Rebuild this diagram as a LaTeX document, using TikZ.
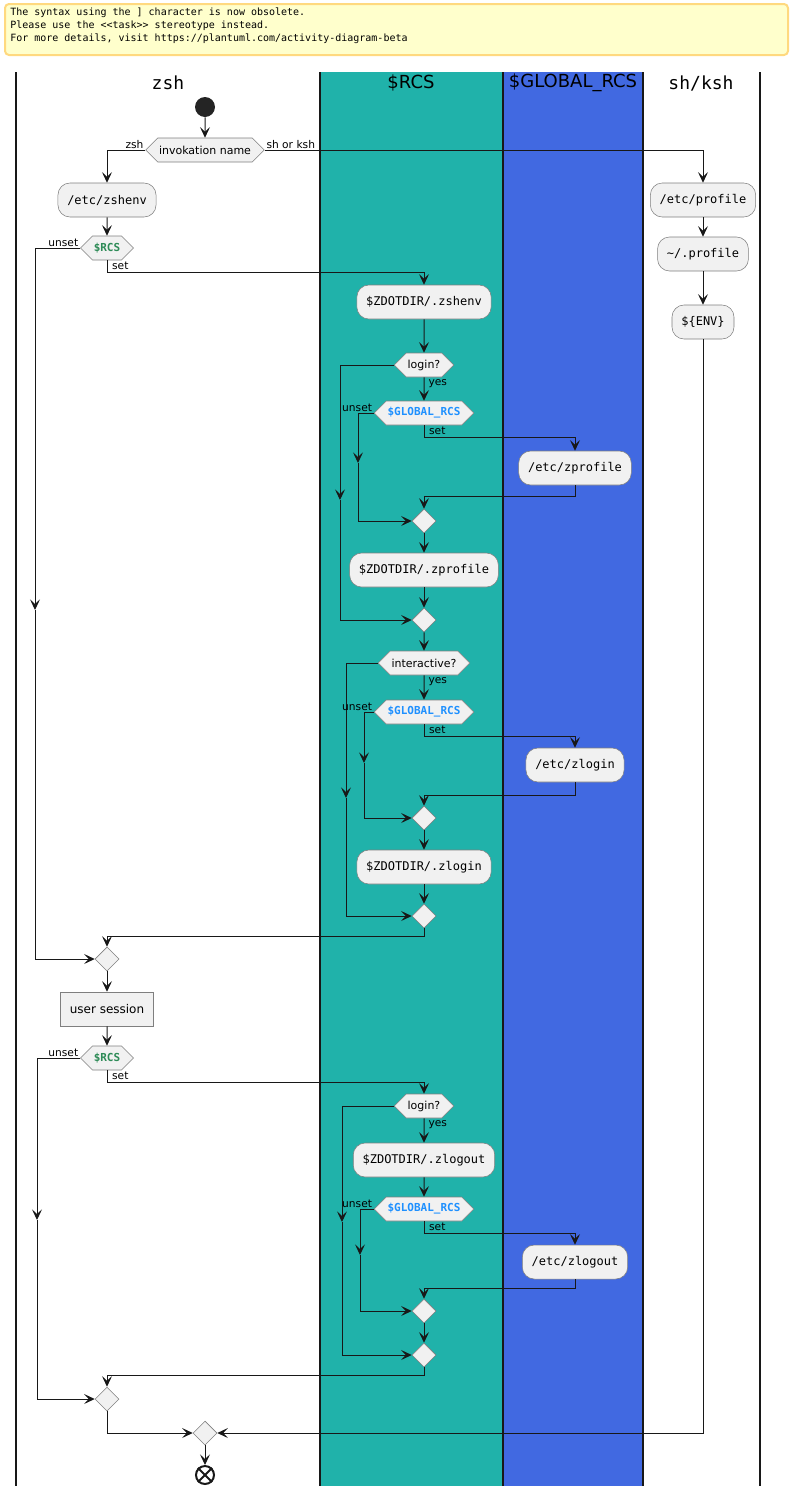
\documentclass[tikz,border=0pt]{standalone}
\usepackage{fontspec}
\setmainfont{DejaVu Sans}
\setmonofont{DejaVu Sans Mono}
\usetikzlibrary{arrows.meta,shapes.geometric,shapes.symbols}
\definecolor{rcsLane}{HTML}{20B2AA}
\definecolor{globalLane}{HTML}{4169E1}
\definecolor{actFill}{HTML}{F1F1F1}
\definecolor{actBorder}{HTML}{7F7F7F}
\definecolor{flowLine}{HTML}{181818}
\definecolor{rcsText}{HTML}{2E8B57}
\definecolor{globalText}{HTML}{1E90FF}
\definecolor{noteFill}{HTML}{FFFFCC}
\definecolor{noteBorder}{HTML}{FFD97F}
\newcommand{\laneTop}{72}
\newcommand{\laneBottom}{1486}
\newcommand{\laneZsh}{16}
\newcommand{\laneRcs}{320}
\newcommand{\laneGlobal}{503}
\newcommand{\laneSh}{643}
\newcommand{\laneEnd}{760}
\newcommand{\headerY}{83}
\newcommand{\rcsVar}{\textcolor{rcsText}{\bfseries\ttfamily \$RCS}}
\newcommand{\globalVar}{\textcolor{globalText}{\bfseries\ttfamily \$GLOBAL\_RCS}}

\begin{document}
\begin{tikzpicture}[x=0.75pt, y=-0.75pt,
    action/.style={draw=actBorder, fill=actFill, rounded corners=9pt, minimum height=25.5pt, inner xsep=7pt, inner ysep=0pt, font=\ttfamily\fontsize{9}{11}\selectfont},
    session/.style={draw=actBorder, fill=actFill, minimum height=25.5pt, inner xsep=7pt, font=\fontsize{9}{11}\selectfont},
    test/.style={draw=actBorder, fill=actFill, signal, signal to=west and east, signal pointer angle=90, minimum height=18pt, inner xsep=1pt, inner ysep=0pt, font=\fontsize{8.25}{10}\selectfont},
    merge/.style={draw=actBorder, fill=actFill, diamond, minimum width=18pt, minimum height=18pt, inner sep=0pt},
    startdot/.style={circle, fill=flowLine!95!white, minimum size=15pt, inner sep=0pt},
    stopdot/.style={circle, draw=flowLine, line width=1.5pt, fill=white, minimum size=13.5pt, inner sep=0pt},
    flow/.style={draw=flowLine, line width=0.75pt, -{Stealth[length=8pt, width=7.5pt, inset=3.5pt]}},
    lbl/.style={font=\fontsize{8}{10}\selectfont, inner sep=1pt},
    branch/.style={lbl, below right, inner xsep=3.5pt},
    lane/.style={font=\fontsize{13.5}{15}\selectfont}]

   \useasboundingbox (0,0) rectangle (793,1496);

   % deprecation note
   \draw[noteBorder, fill=noteFill, line width=1.5pt, rounded corners=3pt] (5,4) rectangle (788,55);
   \node[anchor=north west, align=left, inner sep=0pt, font=\ttfamily\fontsize{7.5}{9.75}\selectfont] (syntaxNote) at (10,8)
      {The syntax using the ] character is now obsolete.\\Please use the <<task>> stereotype instead.\\For more details, visit https://plantuml.com/activity-diagram-beta};

   % swimlanes
   \fill[rcsLane] (\laneRcs,\laneTop) rectangle (\laneGlobal,\laneBottom);
   \fill[globalLane] (\laneGlobal,\laneTop) rectangle (\laneSh,\laneBottom);
   \foreach \x in {\laneZsh,\laneRcs,\laneGlobal,\laneSh,\laneEnd}
      \draw[line width=1.1pt, flowLine] (\x,\laneTop) -- (\x,\laneBottom);
   \node[lane, font=\ttfamily\fontsize{13.5}{15}\selectfont] (hZsh) at (168,\headerY) {zsh};
   \node[lane] (hRcs) at (411,\headerY) {\$RCS};
   \node[lane] (hGlobal) at (573,\headerY) {\$GLOBAL\_RCS};
   \node[lane, font=\ttfamily\fontsize{13.5}{15}\selectfont] (hSh) at (701,\headerY) {sh/ksh};

   % startup
   \node[startdot] (start) at (205,107) {};
   \node[test] (inv) at (205,150) {invokation name};
   \node[action] (zshenv) at (107,200) {/etc/zshenv};
   \node[action] (profile) at (703,200) {/etc/profile};
   \node[action] (homeProfile) at (703,254) {\textasciitilde/.profile};
   \node[action] (env) at (703,322) {\$\{ENV\}};
   \node[test] (rcsA) at (107,248) {\rcsVar};
   \node[action] (zdZshenv) at (424,302) {\$ZDOTDIR/.zshenv};

   % login
   \node[test] (loginA) at (424,365) {login?};
   \node[test] (globA) at (424,413) {\globalVar};
   \node[action] (zprofile) at (575,468) {/etc/zprofile};
   \node[merge] (mergeA1) at (424,521) {};
   \node[action] (zdZprofile) at (424,570) {\$ZDOTDIR/.zprofile};
   \node[merge] (mergeA2) at (424,620) {};

   % interactive
   \node[test] (inter) at (424,663) {interactive?};
   \node[test] (globB) at (424,712) {\globalVar};
   \node[action] (zlogin) at (575,765) {/etc/zlogin};
   \node[merge] (mergeB1) at (424,818) {};
   \node[action] (zdZlogin) at (424,867) {\$ZDOTDIR/.zlogin};
   \node[merge] (mergeB2) at (424,916) {};

   % session and logout
   \node[merge] (mergeZ1) at (107,959) {};
   \node[session] (session) at (107,1009) {user session};
   \node[test] (rcsB) at (107,1058) {\rcsVar};
   \node[test] (loginB) at (424,1106) {login?};
   \node[action] (zdZlogout) at (424,1160) {\$ZDOTDIR/.zlogout};
   \node[test] (globC) at (424,1209) {\globalVar};
   \node[action] (zlogout) at (575,1262) {/etc/zlogout};
   \node[merge] (mergeC1) at (424,1311) {};
   \node[merge] (mergeC2) at (424,1355) {};
   \node[merge] (mergeZ2) at (107,1399) {};
   \node[merge] (mergeEnd) at (205,1433) {};
   \node[stopdot] (stop) at (205,1475) {};
   \draw[flowLine, line width=1.5pt] (stop.45) -- (stop.225) (stop.135) -- (stop.315);

   % bends of the skip branches
   \coordinate (skipA) at (35,610);
   \coordinate (skipB) at (340,500);
   \coordinate (skipC) at (358,463);
   \coordinate (skipD) at (346,798);
   \coordinate (skipE) at (364,763);
   \coordinate (skipF) at (37,1220);
   \coordinate (skipG) at (342,1222);
   \coordinate (skipH) at (360,1255);

   \draw[flow] (start) -- (inv);
   \draw[flow] (inv.west) node[lbl, above left] {zsh} -| (zshenv);
   \draw[flow] (inv.east) node[lbl, above right] {sh or ksh} -| (profile);
   \draw[flow] (profile) -- (homeProfile);
   \draw[flow] (homeProfile) -- (env);
   \draw[flow] (zshenv) -- (rcsA);
   \draw[flow] (rcsA.west) node[lbl, above left] {unset} -| (skipA);
   \draw[flow] (skipA) |- (mergeZ1);
   \draw[flow] (rcsA.south) node[branch] {set} -- ++(0,12) -| (zdZshenv);
   \draw[flow] (zdZshenv) -- (loginA);

   \draw[flow] (loginA.west) -| (skipB);
   \draw[flow] (skipB) |- (mergeA2);
   \draw[flow] (loginA) -- node[lbl, right, near start, inner xsep=3pt] {yes} (globA);
   \draw[flow] (globA.west) node[lbl, above left] {unset} -| (skipC);
   \draw[flow] (skipC) |- (mergeA1);
   \draw[flow] (globA.south) node[branch] {set} -- ++(0,12) -| (zprofile);
   \draw[flow] (zprofile.south) -- ++(0,11) -| (mergeA1);
   \draw[flow] (mergeA1) -- (zdZprofile);
   \draw[flow] (zdZprofile) -- (mergeA2);
   \draw[flow] (mergeA2) -- (inter);

   \draw[flow] (inter.west) -| (skipD);
   \draw[flow] (skipD) |- (mergeB2);
   \draw[flow] (inter) -- node[lbl, right, near start, inner xsep=3pt] {yes} (globB);
   \draw[flow] (globB.west) node[lbl, above left] {unset} -| (skipE);
   \draw[flow] (skipE) |- (mergeB1);
   \draw[flow] (globB.south) node[branch] {set} -- ++(0,12) -| (zlogin);
   \draw[flow] (zlogin.south) -- ++(0,13) -| (mergeB1);
   \draw[flow] (mergeB1) -- (zdZlogin);
   \draw[flow] (zdZlogin) -- (mergeB2);
   \draw[flow] (mergeB2.south) -- ++(0,8) -| (mergeZ1);

   \draw[flow] (mergeZ1) -- (session);
   \draw[flow] (session) -- (rcsB);
   \draw[flow] (rcsB.west) node[lbl, above left] {unset} -| (skipF);
   \draw[flow] (skipF) |- (mergeZ2);
   \draw[flow] (rcsB.south) node[branch] {set} -- ++(0,12) -| (loginB);
   \draw[flow] (loginB.west) -| (skipG);
   \draw[flow] (skipG) |- (mergeC2);
   \draw[flow] (loginB) -- node[lbl, right, near start, inner xsep=3pt] {yes} (zdZlogout);
   \draw[flow] (zdZlogout) -- (globC);
   \draw[flow] (globC.west) node[lbl, above left] {unset} -| (skipH);
   \draw[flow] (skipH) |- (mergeC1);
   \draw[flow] (globC.south) node[branch] {set} -- ++(0,12) -| (zlogout);
   \draw[flow] (zlogout.south) -- ++(0,9) -| (mergeC1);
   \draw[flow] (mergeC1) -- (mergeC2);
   \draw[flow] (mergeC2.south) -- ++(0,8) -| (mergeZ2);

   \draw[flow] (mergeZ2.south) |- (mergeEnd);
   \draw[flow] (env.south) |- (mergeEnd);
   \draw[flow] (mergeEnd) -- (stop);
\end{tikzpicture}
\end{document}
